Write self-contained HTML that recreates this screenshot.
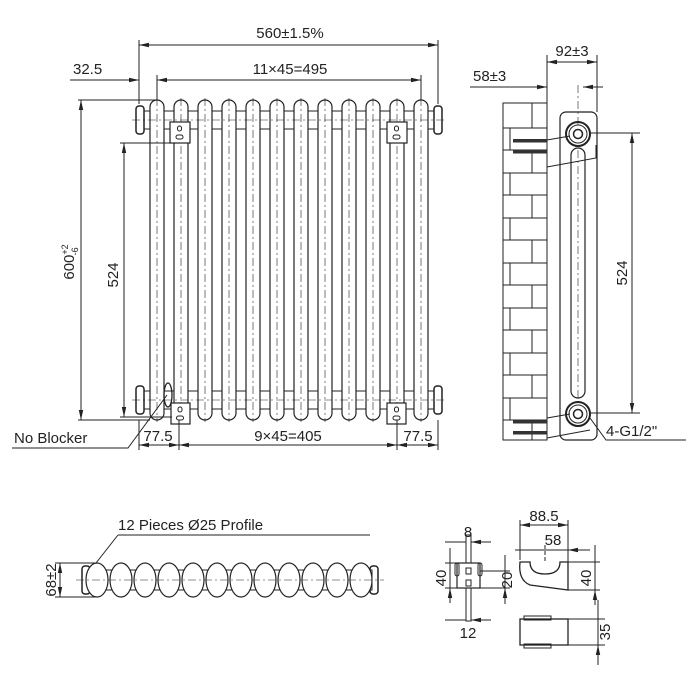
<!DOCTYPE html>
<html><head><meta charset="utf-8"><style>
html,body{margin:0;padding:0;background:#fff;}
svg{display:block;}
text{font-family:"Liberation Sans",sans-serif;font-size:15px;fill:#222;}
</style></head><body>
<svg width="700" height="700" viewBox="0 0 700 700" xmlns="http://www.w3.org/2000/svg">
<defs>
<marker id="a" markerWidth="10" markerHeight="6" refX="10" refY="3" orient="auto-start-reverse" markerUnits="userSpaceOnUse"><path d="M0,0.8 L10,3 L0,5.2z" fill="#222"/></marker>
</defs>
<g stroke="#222" stroke-width="1" fill="none">
<rect x="143" y="111" width="292" height="18" fill="#fff"/>
<rect x="143" y="391" width="292" height="18" fill="#fff"/>
<rect x="136" y="106" width="8" height="28" rx="3" fill="#fff" stroke-width="1.5"/>
<rect x="434" y="106" width="8" height="28" rx="3" fill="#fff" stroke-width="1.5"/>
<rect x="136" y="386" width="8" height="28" rx="3" fill="#fff" stroke-width="1.5"/>
<rect x="434" y="386" width="8" height="28" rx="3" fill="#fff" stroke-width="1.5"/>
<g fill="#fff" stroke-width="1.2">
<rect x="150" y="100" width="14" height="320" rx="7"/>
<rect x="174" y="100" width="14" height="320" rx="7"/>
<rect x="198" y="100" width="14" height="320" rx="7"/>
<rect x="222" y="100" width="14" height="320" rx="7"/>
<rect x="246" y="100" width="14" height="320" rx="7"/>
<rect x="270" y="100" width="14" height="320" rx="7"/>
<rect x="294" y="100" width="14" height="320" rx="7"/>
<rect x="318" y="100" width="14" height="320" rx="7"/>
<rect x="342" y="100" width="14" height="320" rx="7"/>
<rect x="366" y="100" width="14" height="320" rx="7"/>
<rect x="390" y="100" width="14" height="320" rx="7"/>
<rect x="414" y="100" width="14" height="320" rx="7"/>
</g>
<g stroke-dasharray="8,3,2,3" stroke-width="0.6">
<path d="M157 98V422M181 98V422M205 98V422M229 98V422M253 98V422M277 98V422M301 98V422M325 98V422M349 98V422M373 98V422M397 98V422M421 98V422"/>
<path d="M132 120H446M132 400H446"/>
</g>
<g fill="#fff" stroke-width="1.2">
<rect x="170" y="122" width="20" height="21"/>
<rect x="387" y="122" width="20" height="21"/>
<rect x="171" y="403" width="19" height="21"/>
<rect x="387" y="403" width="19" height="21"/>
</g>
<g stroke-width="1">
<rect x="177.5" y="126" width="4" height="5" rx="2"/><rect x="176" y="135" width="7" height="4" rx="2"/>
<rect x="394.5" y="126" width="4" height="5" rx="2"/><rect x="393" y="135" width="7" height="4" rx="2"/>
<rect x="178" y="407" width="4" height="5" rx="2"/><rect x="176.5" y="416" width="7" height="4" rx="2"/>
<rect x="394.5" y="407" width="4" height="5" rx="2"/><rect x="393" y="416" width="7" height="4" rx="2"/>
</g>
<ellipse cx="168" cy="395" rx="4" ry="12" stroke-width="1.3"/>
<path d="M139 45H438" marker-start="url(#a)" marker-end="url(#a)"/>
<path d="M139 40V104M438 40V104M157 75V100M421 75V100"/>
<path d="M157 80H421" marker-start="url(#a)" marker-end="url(#a)"/>
<path d="M70 80H139" marker-end="url(#a)"/>
<path d="M78 100H155M78 420H150M120 143H172M120 417H172"/>
<path d="M81 100V420" marker-start="url(#a)" marker-end="url(#a)"/>
<path d="M124 143V417" marker-start="url(#a)" marker-end="url(#a)"/>
<path d="M139 420V450M179 420V450M397 420V450M438 420V450"/>
<path d="M139 445H179" marker-start="url(#a)" marker-end="url(#a)"/>
<path d="M179 445H397" marker-start="url(#a)" marker-end="url(#a)"/>
<path d="M397 445H438" marker-start="url(#a)" marker-end="url(#a)"/>
<path d="M12 448H128L167 395"/>

<rect x="503" y="103" width="44" height="337"/>
<path d="M503 128H547M503 150H547M503 173H547M503 195H547M503 218H547M503 240H547M503 263H547M503 285H547M503 308H547M503 330H547M503 353H547M503 375H547M503 398H547M503 420H547"/>
<path d="M510 128V150M532 150V173M510 173V195M532 195V218M510 218V240M532 240V263M510 263V285M532 285V308M510 308V330M532 330V353M510 353V375M532 375V398M510 398V420M532 420V440M532 103V128"/>
<rect x="560" y="112" width="37" height="328" rx="6" fill="#fff" stroke-width="1.2"/>
<rect x="571" y="148" width="14" height="250" rx="7" stroke-width="1.2"/>
<circle cx="578" cy="134" r="12" stroke-width="2"/><circle cx="578" cy="134" r="9"/><circle cx="578" cy="134" r="4.5" stroke-width="1.5"/>
<circle cx="578" cy="414" r="12" stroke-width="2"/><circle cx="578" cy="414" r="9"/><circle cx="578" cy="414" r="4.5" stroke-width="1.5"/>
<path d="M547 140L570 136M547 167L596 158V145M547 418L570 414M547 438L590 430" stroke-width="1"/>
<g fill="#333" stroke="none">
<rect x="513" y="139" width="34" height="3.5"/><rect x="513" y="150" width="34" height="3.5"/>
<rect x="513" y="420" width="34" height="3.5"/><rect x="513" y="431" width="34" height="3.5"/>
</g>
<path d="M578 85V125" stroke-dasharray="8,3,2,3" stroke-width="0.6"/>
<path d="M578 150V400" stroke-dasharray="8,3,2,3" stroke-width="0.6"/>
<path d="M547 55V112M597 55V112"/>
<path d="M547 62H597" marker-start="url(#a)" marker-end="url(#a)"/>
<path d="M470 87H547" marker-end="url(#a)"/>
<path d="M603 87H583" marker-end="url(#a)"/>
<path d="M590 133H640M590 413H640"/>
<path d="M632 133V413" marker-start="url(#a)" marker-end="url(#a)"/>
<path d="M590 418L606 440H686"/>

<rect x="82" y="566" width="8" height="28" rx="3" stroke-width="1.5"/>
<rect x="370" y="566" width="8" height="28" rx="3" stroke-width="1.5"/>
<rect x="88" y="570" width="284" height="20" fill="#fff"/>
<g fill="#fff" stroke-width="1.2">
<ellipse cx="97" cy="580" rx="11" ry="17"/>
<ellipse cx="121" cy="580" rx="11" ry="17"/>
<ellipse cx="145" cy="580" rx="11" ry="17"/>
<ellipse cx="169" cy="580" rx="11" ry="17"/>
<ellipse cx="193" cy="580" rx="11" ry="17"/>
<ellipse cx="217" cy="580" rx="11" ry="17"/>
<ellipse cx="241" cy="580" rx="11" ry="17"/>
<ellipse cx="265" cy="580" rx="11" ry="17"/>
<ellipse cx="289" cy="580" rx="11" ry="17"/>
<ellipse cx="313" cy="580" rx="11" ry="17"/>
<ellipse cx="337" cy="580" rx="11" ry="17"/>
<ellipse cx="361" cy="580" rx="11" ry="17"/>
</g>
<path d="M76 580H384" stroke-dasharray="8,3,2,3" stroke-width="0.6"/>
<path d="M118 535H370M118 535L96 563" />
<path d="M55 563H97M55 597H97"/>
<path d="M60 563V597" marker-start="url(#a)" marker-end="url(#a)"/>

<rect x="466" y="535" width="5" height="86"/>
<rect x="457" y="563" width="23" height="25" fill="#fff" stroke-width="1.2"/>
<rect x="455" y="563" width="4" height="13" rx="2"/><rect x="478" y="563" width="4" height="13" rx="2"/>
<rect x="466" y="568" width="5" height="6"/><rect x="466" y="580" width="5" height="6"/>
<path d="M445 542H466M491 542H471" marker-end="url(#a)"/>
<path d="M445 542H460M491 542H477"/>
<path d="M445 620H466M491 620H471" marker-end="url(#a)"/>
<path d="M445 563H457M445 588H457M480 571H510M480 588H510"/>
<path d="M450 548V563M450 603V588" marker-end="url(#a)"/>
<path d="M450 548V603"/>
<path d="M505 555V571M505 604V588" marker-end="url(#a)"/>
<path d="M505 555V604"/>
<path d="M520 562Q518 580 530 585L568 590V562H560Q560 574 545 574Q530 574 530 562Z" fill="#fff" stroke-width="1.3"/>
<path d="M520 520V560M568 520V590"/>
<path d="M520 525H568" marker-start="url(#a)" marker-end="url(#a)"/>
<path d="M515 550H535M590 550H568" marker-end="url(#a)"/>
<path d="M515 550H590"/>
<path d="M545 545V562" stroke-dasharray="4,2"/>
<path d="M568 562H600M568 590H600"/>
<path d="M595 545V562M595 605V590" marker-end="url(#a)"/>
<path d="M595 545V605"/>
<rect x="520" y="619" width="48" height="26" stroke-width="1.3"/>
<rect x="524" y="616" width="27" height="4"/><rect x="524" y="644" width="27" height="4"/>
<path d="M568 619H605M568 645H605"/>
<path d="M598 600V619M598 665V645" marker-end="url(#a)"/>
<path d="M598 600V665"/>
</g>
<text x="290" y="38" text-anchor="middle">560±1.5%</text>
<text x="290" y="74" text-anchor="middle">11×45=495</text>
<text x="73" y="74">32.5</text>
<text transform="translate(74,262) rotate(-90)" text-anchor="middle">600<tspan font-size="9" dy="-6">+2</tspan><tspan font-size="9" dx="-11" dy="10">-6</tspan></text>
<text transform="translate(118,275) rotate(-90)" text-anchor="middle">524</text>
<text x="14" y="443" font-size="15">No Blocker</text>
<text x="158" y="441" text-anchor="middle">77.5</text>
<text x="288" y="441" text-anchor="middle">9×45=405</text>
<text x="418" y="441" text-anchor="middle">77.5</text>
<text x="572" y="56" text-anchor="middle">92±3</text>
<text x="473" y="81">58±3</text>
<text transform="translate(627,273) rotate(-90)" text-anchor="middle">524</text>
<text x="606" y="436">4-G1/2"</text>
<text x="118" y="530">12 Pieces Ø25 Profile</text>
<text transform="translate(56,580) rotate(-90)" text-anchor="middle">68±2</text>
<text x="468" y="537" text-anchor="middle">8</text>
<text transform="translate(446,578) rotate(-90)" text-anchor="middle">40</text>
<text transform="translate(512,580) rotate(-90)" text-anchor="middle">20</text>
<text x="468" y="638" text-anchor="middle">12</text>
<text x="544" y="521" text-anchor="middle">88.5</text>
<text x="553" y="545" text-anchor="middle">58</text>
<text transform="translate(591,578) rotate(-90)" text-anchor="middle">40</text>
<text transform="translate(610,632) rotate(-90)" text-anchor="middle">35</text>
</svg>
</body></html>
